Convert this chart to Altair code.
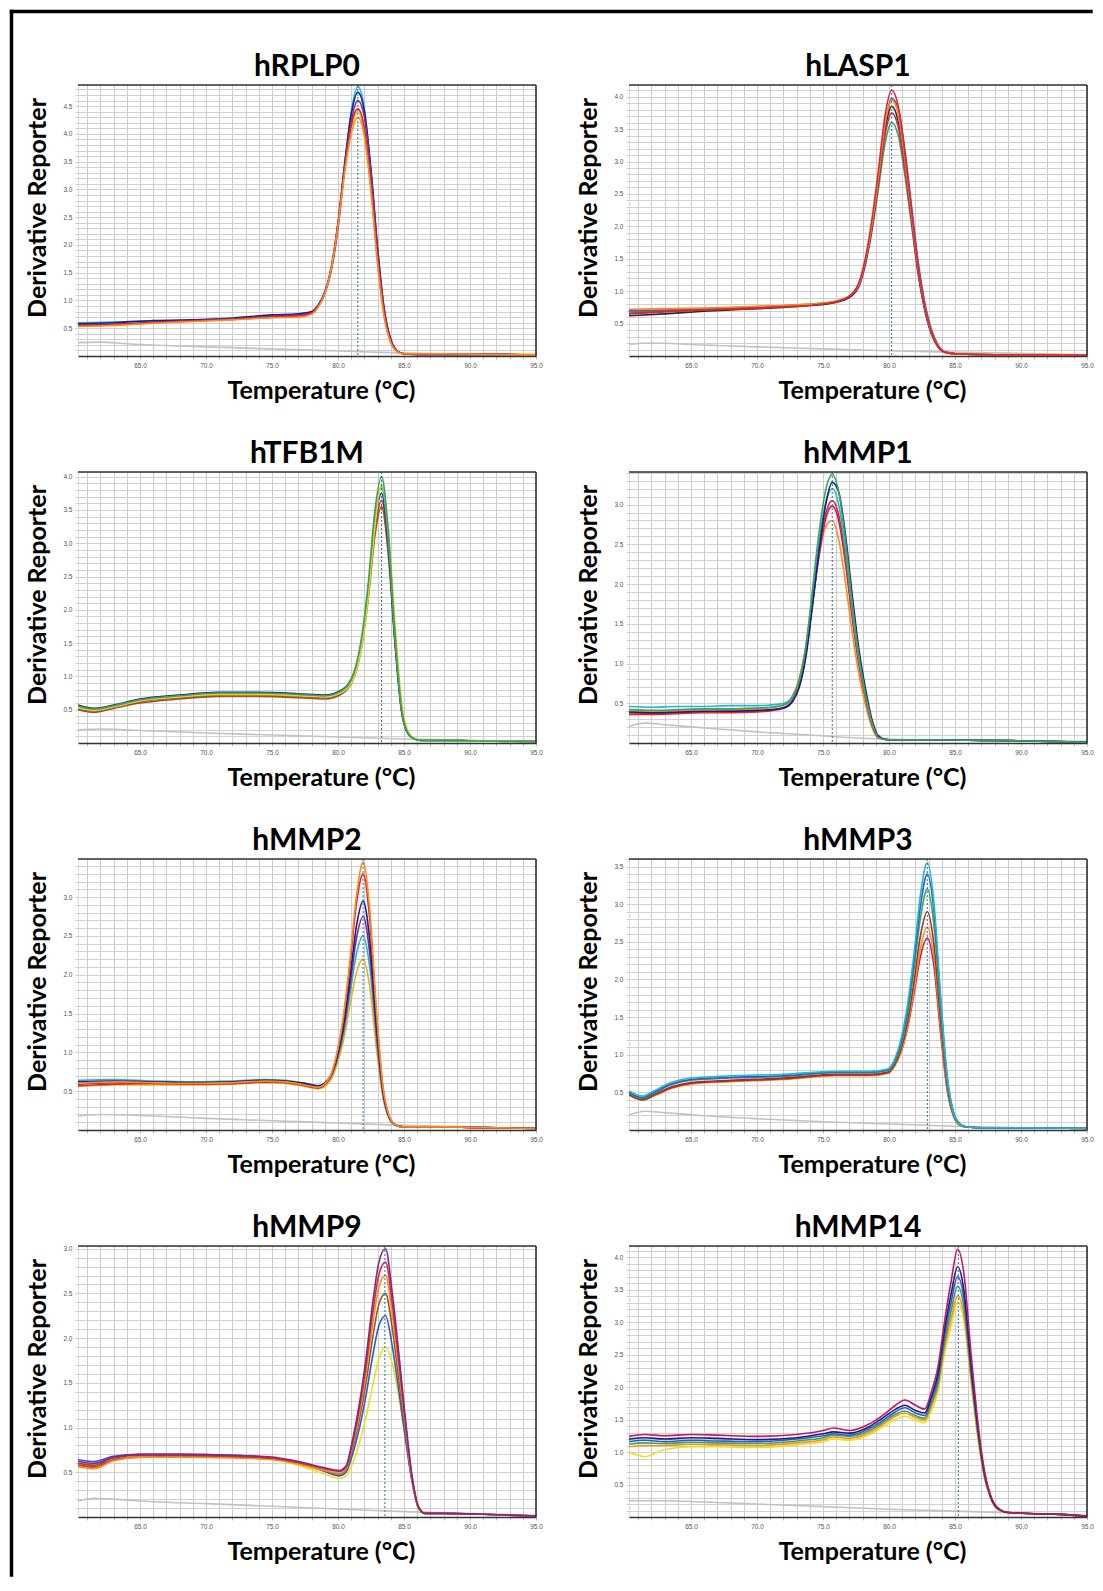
import altair as alt
import pandas as pd

# ---------------- data ----------------
PANELS = ["hRPLP0", "hLASP1", "hTFB1M", "hMMP1", "hMMP2", "hMMP3", "hMMP9", "hMMP14"]
TM = [81.5, 80.2, 83.3, 75.7, 81.9, 82.9, 83.55, 85.25]
YMAX = [4.88, 4.18, 4.07, 3.41, 3.49, 3.6, 3.03, 4.17]
X_DOMAIN = [60.3, 95]
X_LABELS = [65, 70, 75, 80, 85, 90, 95]

# hRPLP0
T_RPLP0 = [60.3, 63, 66, 69, 72, 75, 77, 78, 78.5, 79, 79.5, 80, 80.5, 81, 81.5, 82, 82.5, 83, 83.5, 84, 84.5, 85, 86, 88, 91, 95]
C_RPLP0 = [
    [0.60, 0.61, 0.63, 0.65, 0.69, 0.73, 0.75, 0.79, 0.91, 1.14, 1.58, 2.36, 3.45, 4.4, 4.85, 4.45, 3.3, 1.85, 0.78, 0.27, 0.08, 0.04, 0.03, 0.03, 0.02, 0.02],
    [0.54, 0.56, 0.60, 0.63, 0.66, 0.70, 0.71, 0.76, 0.89, 1.13, 1.6, 2.4, 3.35, 4.08, 4.4, 4.02, 3.0, 1.68, 0.72, 0.24, 0.08, 0.04, 0.04, 0.04, 0.04, 0.03],
    [0.58, 0.60, 0.64, 0.65, 0.68, 0.74, 0.76, 0.80, 0.92, 1.15, 1.6, 2.4, 3.45, 4.35, 4.75, 4.4, 3.35, 1.95, 0.85, 0.3, 0.09, 0.04, 0.03, 0.03, 0.03, 0.02],
    [0.56, 0.57, 0.61, 0.64, 0.67, 0.72, 0.74, 0.78, 0.9, 1.12, 1.55, 2.3, 3.35, 4.22, 4.6, 4.3, 3.3, 1.9, 0.82, 0.28, 0.09, 0.04, 0.03, 0.03, 0.03, 0.02],
    [0.55, 0.56, 0.60, 0.63, 0.66, 0.70, 0.72, 0.77, 0.90, 1.13, 1.6, 2.38, 3.38, 4.15, 4.45, 4.1, 3.05, 1.72, 0.74, 0.25, 0.08, 0.04, 0.03, 0.03, 0.03, 0.02],
    [0.53, 0.55, 0.59, 0.62, 0.65, 0.69, 0.70, 0.75, 0.88, 1.12, 1.58, 2.35, 3.3, 4.0, 4.3, 3.95, 2.95, 1.65, 0.7, 0.24, 0.08, 0.04, 0.04, 0.04, 0.03, 0.02],
]
K_RPLP0 = ["#22b5d6", "#e8c21a", "#1b1b8a", "#7a2a90", "#e0262b", "#ff8c1a"]
NT_RPLP0 = [60.3, 62, 64, 68, 72, 76, 80, 84, 88, 95]
NV_RPLP0 = [0.24, 0.25, 0.22, 0.18, 0.15, 0.12, 0.09, 0.06, 0.04, 0.02]

# hLASP1
T_LASP1 = [60.3, 63, 66, 69, 72, 74, 75.2, 76.2, 77.2, 77.7, 78.2, 78.7, 79.2, 79.7, 80.2, 80.7, 81.2, 81.7, 82.2, 82.7, 83.2, 83.7, 84.2, 85.2, 88, 91, 95]
C_LASP1 = [
    [0.68, 0.70, 0.72, 0.75, 0.78, 0.80, 0.82, 0.85, 0.95, 1.08, 1.42, 1.92, 2.58, 3.28, 3.6, 3.4, 2.79, 2.03, 1.26, 0.71, 0.34, 0.14, 0.06, 0.03, 0.02, 0.02, 0.01],
    [0.70, 0.71, 0.73, 0.75, 0.77, 0.79, 0.81, 0.84, 0.93, 1.06, 1.4, 1.95, 2.7, 3.52, 3.97, 3.82, 3.18, 2.33, 1.47, 0.84, 0.42, 0.18, 0.07, 0.03, 0.02, 0.02, 0.01],
    [0.62, 0.65, 0.69, 0.72, 0.75, 0.78, 0.80, 0.84, 0.94, 1.08, 1.44, 1.98, 2.7, 3.49, 3.85, 3.62, 2.95, 2.14, 1.32, 0.74, 0.36, 0.15, 0.06, 0.03, 0.02, 0.02, 0.01],
    [0.65, 0.68, 0.71, 0.73, 0.76, 0.79, 0.81, 0.85, 0.95, 1.09, 1.45, 1.97, 2.68, 3.41, 3.75, 3.53, 2.88, 2.09, 1.29, 0.73, 0.35, 0.15, 0.06, 0.03, 0.02, 0.02, 0.01],
    [0.72, 0.73, 0.74, 0.76, 0.78, 0.80, 0.82, 0.86, 0.96, 1.1, 1.47, 2.03, 2.77, 3.58, 3.95, 3.72, 3.03, 2.2, 1.36, 0.77, 0.37, 0.16, 0.06, 0.03, 0.02, 0.02, 0.01],
    [0.66, 0.69, 0.71, 0.73, 0.76, 0.78, 0.81, 0.85, 0.96, 1.12, 1.5, 2.1, 2.87, 3.71, 4.1, 3.85, 3.13, 2.26, 1.39, 0.77, 0.37, 0.15, 0.06, 0.03, 0.02, 0.02, 0.01],
]
K_LASP1 = ["#3aa655", "#3c64c8", "#2b2b2b", "#b0306a", "#ff8c1a", "#e0262b"]
NT_LASP1 = [60.3, 62, 66, 70, 75, 80, 85, 90, 95]
NV_LASP1 = [0.18, 0.2, 0.17, 0.14, 0.11, 0.08, 0.06, 0.04, 0.02]

# hTFB1M
T_TFB1M = [60.3, 61.5, 63, 65, 68, 71, 74, 77, 79, 80.3, 80.8, 81.3, 81.8, 82.3, 82.8, 83.3, 83.8, 84.3, 84.8, 85.3, 85.8, 86.3, 88, 91, 95]
C_TFB1M = [
    [0.50, 0.46, 0.52, 0.6, 0.66, 0.7, 0.7, 0.68, 0.66, 0.74, 0.83, 1.03, 1.46, 2.18, 3.12, 3.55, 2.85, 1.52, 0.49, 0.14, 0.06, 0.04, 0.04, 0.03, 0.02],
    [0.52, 0.48, 0.53, 0.62, 0.68, 0.72, 0.72, 0.70, 0.68, 0.76, 0.85, 1.06, 1.5, 2.24, 3.2, 3.65, 2.93, 1.56, 0.5, 0.14, 0.06, 0.04, 0.04, 0.03, 0.02],
    [0.57, 0.52, 0.57, 0.66, 0.72, 0.76, 0.76, 0.74, 0.72, 0.8, 0.89, 1.1, 1.55, 2.3, 3.3, 3.75, 3.0, 1.6, 0.52, 0.14, 0.06, 0.04, 0.04, 0.03, 0.02],
    [0.54, 0.5, 0.55, 0.64, 0.7, 0.74, 0.74, 0.72, 0.7, 0.78, 0.87, 1.09, 1.56, 2.35, 3.38, 3.85, 3.08, 1.63, 0.53, 0.15, 0.06, 0.04, 0.04, 0.03, 0.02],
    [0.53, 0.49, 0.54, 0.63, 0.69, 0.73, 0.73, 0.71, 0.69, 0.76, 0.84, 1.03, 1.46, 2.2, 3.25, 3.88, 3.25, 1.85, 0.65, 0.18, 0.07, 0.04, 0.04, 0.03, 0.02],
    [0.56, 0.51, 0.56, 0.65, 0.71, 0.75, 0.75, 0.73, 0.71, 0.79, 0.89, 1.12, 1.6, 2.42, 3.5, 4.0, 3.2, 1.69, 0.54, 0.15, 0.06, 0.04, 0.04, 0.03, 0.02],
]
K_TFB1M = ["#8b5a2b", "#e0262b", "#1b1b8a", "#22b5d6", "#e8d21a", "#3aa655"]
NT_TFB1M = [60.3, 62, 66, 70, 75, 80, 85, 90, 95]
NV_TFB1M = [0.2, 0.21, 0.18, 0.15, 0.12, 0.09, 0.06, 0.04, 0.02]

# hMMP1
T_MMP1 = [60.3, 62, 64, 66, 68, 70, 71.2, 72.2, 72.7, 73.2, 73.7, 74.2, 74.7, 75.2, 75.7, 76.2, 76.7, 77.2, 77.7, 78.2, 78.7, 79.2, 80, 83, 86, 89, 92, 95]
C_MMP1 = [
    [0.4, 0.4, 0.41, 0.42, 0.42, 0.43, 0.45, 0.5, 0.6, 0.82, 1.22, 1.8, 2.36, 2.72, 2.8, 2.55, 2.02, 1.4, 0.88, 0.49, 0.2, 0.06, 0.04, 0.04, 0.035, 0.03, 0.02, 0.01],
    [0.38, 0.37, 0.38, 0.39, 0.4, 0.4, 0.42, 0.46, 0.54, 0.74, 1.13, 1.75, 2.36, 2.82, 2.98, 2.79, 2.26, 1.59, 1.01, 0.58, 0.24, 0.07, 0.04, 0.04, 0.035, 0.03, 0.02, 0.01],
    [0.36, 0.36, 0.37, 0.38, 0.38, 0.39, 0.41, 0.45, 0.53, 0.73, 1.13, 1.77, 2.4, 2.88, 3.05, 2.86, 2.32, 1.63, 1.04, 0.59, 0.25, 0.07, 0.04, 0.04, 0.035, 0.03, 0.02, 0.01],
    [0.46, 0.45, 0.46, 0.46, 0.47, 0.47, 0.48, 0.51, 0.59, 0.79, 1.2, 1.87, 2.53, 3.02, 3.2, 2.99, 2.43, 1.7, 1.08, 0.62, 0.26, 0.07, 0.04, 0.04, 0.035, 0.03, 0.02, 0.01],
    [0.39, 0.38, 0.39, 0.4, 0.4, 0.41, 0.42, 0.45, 0.52, 0.7, 1.08, 1.72, 2.42, 3.0, 3.28, 3.15, 2.62, 1.88, 1.2, 0.7, 0.3, 0.09, 0.04, 0.04, 0.035, 0.03, 0.02, 0.01],
    [0.42, 0.41, 0.42, 0.43, 0.43, 0.44, 0.45, 0.49, 0.57, 0.79, 1.22, 1.93, 2.65, 3.18, 3.38, 3.15, 2.55, 1.78, 1.12, 0.63, 0.26, 0.07, 0.04, 0.04, 0.035, 0.03, 0.02, 0.01],
]
K_MMP1 = ["#ff8c1a", "#c2185b", "#e0262b", "#22b5d6", "#1b1b8a", "#3aa655"]
NT_MMP1 = [60.3, 61.5, 63, 66, 70, 74, 78, 84, 90, 95]
NV_MMP1 = [0.21, 0.25, 0.23, 0.19, 0.14, 0.1, 0.06, 0.04, 0.03, 0.02]

# hMMP2
T_MMP2 = [60.3, 63, 66, 69, 72, 74.5, 76, 77.5, 78.5, 79.4, 79.9, 80.4, 80.9, 81.4, 81.9, 82.4, 82.9, 83.4, 83.9, 84.4, 84.9, 86, 88, 91, 95]
C_MMP2 = [
    [0.56, 0.58, 0.58, 0.58, 0.59, 0.61, 0.6, 0.56, 0.53, 0.63, 0.83, 1.14, 1.6, 2.03, 2.2, 1.85, 1.06, 0.42, 0.14, 0.06, 0.04, 0.04, 0.04, 0.03, 0.02],
    [0.64, 0.65, 0.63, 0.62, 0.63, 0.65, 0.64, 0.6, 0.57, 0.67, 0.88, 1.22, 1.74, 2.27, 2.5, 2.1, 1.2, 0.46, 0.15, 0.06, 0.04, 0.04, 0.04, 0.03, 0.02],
    [0.59, 0.61, 0.6, 0.6, 0.6, 0.62, 0.62, 0.58, 0.55, 0.67, 0.9, 1.28, 1.85, 2.47, 2.75, 2.28, 1.28, 0.48, 0.15, 0.06, 0.04, 0.04, 0.04, 0.03, 0.02],
    [0.62, 0.63, 0.62, 0.61, 0.62, 0.64, 0.63, 0.6, 0.57, 0.69, 0.93, 1.33, 1.95, 2.63, 2.95, 2.45, 1.38, 0.52, 0.16, 0.06, 0.04, 0.04, 0.04, 0.03, 0.02],
    [0.57, 0.59, 0.6, 0.59, 0.6, 0.62, 0.61, 0.57, 0.54, 0.68, 0.96, 1.42, 2.12, 2.92, 3.3, 2.72, 1.51, 0.55, 0.17, 0.06, 0.04, 0.04, 0.04, 0.03, 0.02],
    [0.6, 0.62, 0.61, 0.6, 0.61, 0.63, 0.62, 0.58, 0.55, 0.69, 0.98, 1.46, 2.19, 3.02, 3.45, 2.85, 1.58, 0.57, 0.17, 0.06, 0.04, 0.04, 0.04, 0.03, 0.02],
]
K_MMP2 = ["#e3b51a", "#22b5d6", "#7a2a90", "#1b1b8a", "#e0262b", "#ff8c1a"]
NT_MMP2 = [60.3, 62, 66, 70, 75, 80, 85, 90, 95]
NV_MMP2 = [0.18, 0.2, 0.18, 0.15, 0.12, 0.09, 0.06, 0.04, 0.02]

# hMMP3
T_MMP3 = [60.3, 61.3, 62.3, 63.5, 65, 68, 72, 76, 78.5, 79.9, 80.4, 80.9, 81.4, 81.9, 82.4, 82.9, 83.4, 83.9, 84.4, 84.9, 85.4, 85.9, 87, 90, 95]
C_MMP3 = [
    [0.48, 0.41, 0.48, 0.57, 0.63, 0.66, 0.69, 0.74, 0.74, 0.77, 0.85, 1.03, 1.35, 1.82, 2.32, 2.55, 2.18, 1.3, 0.54, 0.18, 0.06, 0.04, 0.03, 0.03, 0.02],
    [0.46, 0.4, 0.46, 0.55, 0.61, 0.64, 0.67, 0.72, 0.72, 0.75, 0.84, 1.03, 1.37, 1.87, 2.43, 2.7, 2.3, 1.37, 0.56, 0.18, 0.06, 0.04, 0.03, 0.03, 0.02],
    [0.47, 0.4, 0.47, 0.56, 0.62, 0.65, 0.68, 0.73, 0.73, 0.76, 0.86, 1.07, 1.43, 1.98, 2.6, 2.9, 2.47, 1.47, 0.6, 0.19, 0.07, 0.04, 0.03, 0.03, 0.02],
    [0.49, 0.42, 0.5, 0.6, 0.66, 0.69, 0.71, 0.76, 0.76, 0.79, 0.89, 1.12, 1.53, 2.14, 2.84, 3.2, 2.73, 1.62, 0.66, 0.21, 0.07, 0.04, 0.03, 0.03, 0.02],
    [0.5, 0.43, 0.51, 0.61, 0.67, 0.7, 0.72, 0.77, 0.77, 0.8, 0.91, 1.16, 1.6, 2.25, 3.0, 3.4, 2.92, 1.75, 0.72, 0.23, 0.08, 0.04, 0.03, 0.03, 0.02],
    [0.52, 0.45, 0.53, 0.63, 0.69, 0.72, 0.74, 0.78, 0.78, 0.81, 0.93, 1.2, 1.66, 2.35, 3.15, 3.55, 3.03, 1.8, 0.73, 0.22, 0.07, 0.04, 0.03, 0.03, 0.02],
]
K_MMP3 = ["#c2185b", "#ff8c1a", "#a0302a", "#3aa655", "#2a5cc8", "#22b5d6"]
NT_MMP3 = [60.3, 61.5, 63, 66, 70, 75, 80, 85, 90, 95]
NV_MMP3 = [0.2, 0.25, 0.23, 0.19, 0.15, 0.11, 0.08, 0.05, 0.03, 0.02]

# hMMP9
T_MMP9 = [60.3, 61.5, 63, 65, 68, 72, 75, 77, 79, 80.1, 80.6, 81.1, 81.6, 82.1, 82.6, 83.1, 83.6, 84.1, 84.6, 85.1, 85.6, 86.1, 86.6, 88, 91, 95]
C_MMP9 = [
    [0.57, 0.55, 0.64, 0.68, 0.69, 0.68, 0.65, 0.58, 0.48, 0.43, 0.46, 0.6, 0.82, 1.1, 1.45, 1.77, 1.9, 1.72, 1.35, 0.9, 0.44, 0.13, 0.05, 0.04, 0.03, 0.01],
    [0.64, 0.62, 0.68, 0.7, 0.7, 0.69, 0.66, 0.6, 0.51, 0.46, 0.5, 0.7, 0.98, 1.34, 1.78, 2.14, 2.25, 1.92, 1.42, 0.88, 0.4, 0.1, 0.04, 0.04, 0.03, 0.01],
    [0.58, 0.56, 0.64, 0.67, 0.68, 0.67, 0.65, 0.6, 0.52, 0.48, 0.53, 0.76, 1.08, 1.48, 1.98, 2.38, 2.5, 2.12, 1.55, 0.95, 0.42, 0.1, 0.04, 0.04, 0.03, 0.01],
    [0.56, 0.54, 0.63, 0.67, 0.67, 0.66, 0.64, 0.59, 0.52, 0.49, 0.54, 0.8, 1.14, 1.59, 2.13, 2.57, 2.7, 2.27, 1.66, 1.01, 0.43, 0.1, 0.04, 0.04, 0.03, 0.01],
    [0.6, 0.58, 0.66, 0.69, 0.69, 0.68, 0.66, 0.61, 0.54, 0.51, 0.56, 0.83, 1.2, 1.67, 2.25, 2.71, 2.85, 2.4, 1.75, 1.06, 0.45, 0.11, 0.04, 0.04, 0.03, 0.01],
    [0.62, 0.6, 0.67, 0.7, 0.7, 0.69, 0.67, 0.62, 0.55, 0.52, 0.57, 0.86, 1.25, 1.75, 2.36, 2.85, 3.0, 2.52, 1.84, 1.11, 0.47, 0.11, 0.04, 0.04, 0.03, 0.01],
]
K_MMP9 = ["#e8e01a", "#2a5cc8", "#8b5a2b", "#ff8c1a", "#e0262b", "#7a2a90"]
NT_MMP9 = [60.3, 61.5, 63, 66, 70, 75, 80, 85, 90, 95]
NV_MMP9 = [0.18, 0.21, 0.2, 0.17, 0.15, 0.12, 0.09, 0.06, 0.04, 0.02]

# hMMP14
T_MMP14 = [60.3, 61.5, 63, 65, 67, 70, 73, 75, 75.8, 77, 78.5, 79.5, 80.5, 81.2, 82, 82.7, 83.2, 83.7, 84.2, 84.7, 85.2, 85.7, 86.2, 86.7, 87.2, 87.7, 88.2, 89, 91, 93, 95]
C_MMP14 = [
    [1.0, 0.93, 1.04, 1.08, 1.08, 1.07, 1.11, 1.16, 1.2, 1.18, 1.27, 1.38, 1.5, 1.55, 1.49, 1.45, 1.63, 1.92, 2.5, 2.94, 3.3, 3.0, 2.1, 1.25, 0.62, 0.28, 0.12, 0.07, 0.05, 0.04, 0.01],
    [1.08, 1.1, 1.1, 1.12, 1.11, 1.1, 1.14, 1.19, 1.23, 1.21, 1.3, 1.42, 1.55, 1.6, 1.53, 1.49, 1.7, 2.0, 2.6, 3.05, 3.4, 3.08, 2.15, 1.3, 0.64, 0.29, 0.13, 0.07, 0.05, 0.04, 0.01],
    [1.12, 1.14, 1.13, 1.15, 1.14, 1.13, 1.17, 1.22, 1.26, 1.24, 1.33, 1.45, 1.58, 1.63, 1.56, 1.52, 1.74, 2.05, 2.68, 3.17, 3.55, 3.2, 2.22, 1.34, 0.66, 0.3, 0.13, 0.07, 0.05, 0.04, 0.01],
    [1.16, 1.18, 1.16, 1.18, 1.17, 1.16, 1.2, 1.25, 1.28, 1.26, 1.36, 1.48, 1.62, 1.68, 1.6, 1.56, 1.8, 2.12, 2.78, 3.3, 3.7, 3.32, 2.3, 1.39, 0.69, 0.31, 0.14, 0.07, 0.05, 0.04, 0.01],
    [1.2, 1.22, 1.2, 1.22, 1.21, 1.19, 1.22, 1.28, 1.31, 1.29, 1.39, 1.52, 1.66, 1.72, 1.64, 1.6, 1.85, 2.2, 2.88, 3.43, 3.85, 3.45, 2.38, 1.43, 0.71, 0.32, 0.14, 0.07, 0.05, 0.04, 0.01],
    [1.24, 1.27, 1.25, 1.27, 1.26, 1.24, 1.27, 1.33, 1.37, 1.33, 1.43, 1.56, 1.72, 1.8, 1.72, 1.66, 1.92, 2.3, 3.0, 3.62, 4.12, 3.7, 2.55, 1.52, 0.75, 0.33, 0.15, 0.07, 0.05, 0.04, 0.01],
]
K_MMP14 = ["#e8e01a", "#ff8c1a", "#3aa655", "#2a5cc8", "#1b1b8a", "#c2185b"]
NT_MMP14 = [60.3, 63, 66, 70, 75, 80, 85, 90, 95]
NV_MMP14 = [0.25, 0.25, 0.23, 0.2, 0.16, 0.12, 0.09, 0.06, 0.03]

SERIES = [
    (T_RPLP0, C_RPLP0, K_RPLP0, NT_RPLP0, NV_RPLP0),
    (T_LASP1, C_LASP1, K_LASP1, NT_LASP1, NV_LASP1),
    (T_TFB1M, C_TFB1M, K_TFB1M, NT_TFB1M, NV_TFB1M),
    (T_MMP1, C_MMP1, K_MMP1, NT_MMP1, NV_MMP1),
    (T_MMP2, C_MMP2, K_MMP2, NT_MMP2, NV_MMP2),
    (T_MMP3, C_MMP3, K_MMP3, NT_MMP3, NV_MMP3),
    (T_MMP9, C_MMP9, K_MMP9, NT_MMP9, NV_MMP9),
    (T_MMP14, C_MMP14, K_MMP14, NT_MMP14, NV_MMP14),
]

# ---------------- layout / style ----------------
W, H = 458, 271
BOLD = "Lato"
SMALL = "Liberation Sans"


def make_panel(i, with_border=False):
    temps, curves, colors, nt, nv = SERIES[i]
    rows = []
    for k, (vals, col) in enumerate(zip(curves, colors)):
        if len(vals) != len(temps):
            raise ValueError(f"{PANELS[i]} curve {k}: {len(vals)} vs {len(temps)}")
        for t, v in zip(temps, vals):
            rows.append({"t": t, "v": v, "id": k, "col": col})
    df = pd.DataFrame(rows)
    ntc = pd.DataFrame({"t": nt, "v": nv})
    one = pd.DataFrame({"a": [0]})

    xs = alt.Scale(domain=X_DOMAIN, nice=False, zero=False)
    ys = alt.Scale(domain=[0, YMAX[i]], nice=False, zero=False)
    xvals = list(range(61, 96))
    yvals = [round(0.1 * k, 1) for k in range(1, int(YMAX[i] * 10 + 1e-6) + 1)]

    xaxis = alt.Axis(
        values=xvals,
        labelExpr="datum.value % 5 == 0 ? format(datum.value, '.1f') : ''",
        labelOverlap=False, labelFlush=False,
        labelFont=SMALL, labelFontSize=6.5, labelColor="#555555", labelPadding=3,
        grid=True, gridColor="#c6c6c6", gridWidth=0.9,
        ticks=True, tickSize=3, tickColor="#bbbbbb",
        domain=True, domainColor="#333333", domainWidth=1.6,
        title="Temperature (°C)", titleFont=BOLD, titleFontSize=25,
        titleFontWeight="bold", titleColor="#000000",
        titleX=W / 2 + 14, titleY=42, titleBaseline="alphabetic", titleAlign="center",
    )
    yaxis = alt.Axis(
        values=yvals,
        labelExpr="abs(datum.value * 2 - round(datum.value * 2)) < 0.01 ? format(datum.value, '.1f') : ''",
        labelOverlap=False, labelFlush=False,
        labelFont=SMALL, labelFontSize=6.5, labelColor="#555555", labelPadding=3,
        grid=True, gridColor="#cccccc", gridWidth=0.9,
        ticks=True, tickSize=3, tickColor="#cccccc",
        domain=False,
        title="Derivative Reporter", titleFont=BOLD, titleFontSize=25,
        titleFontWeight="bold", titleColor="#000000",
        titleX=-41, titleY=H / 2 - 13, titleAngle=-90,
        titleBaseline="middle", titleAlign="center",
    )

    gray = alt.Chart(ntc).mark_line(
        color="#c2c2c2", strokeWidth=1.6, interpolate="monotone", clip=True
    ).encode(
        x=alt.X("t:Q", scale=xs, axis=xaxis),
        y=alt.Y("v:Q", scale=ys, axis=yaxis),
    )
    lines = alt.Chart(df).mark_line(
        strokeWidth=1.6, interpolate="monotone", clip=True
    ).encode(
        x=alt.X("t:Q", scale=xs, axis=xaxis),
        y=alt.Y("v:Q", scale=ys, axis=yaxis),
        color=alt.Color("col:N", scale=None),
        detail="id:N",
        order="id:Q",
    )
    tm = alt.Chart(pd.DataFrame({"t": [TM[i]]})).mark_rule(
        color="#2f6db5", strokeDash=[2, 2], strokeWidth=1
    ).encode(x=alt.X("t:Q", scale=xs, axis=xaxis))
    top = alt.Chart(one).mark_rule(color="#333333", strokeWidth=1.6).encode(
        x=alt.value(0), x2=alt.value(W), y=alt.value(0)
    )
    right = alt.Chart(one).mark_rule(color="#333333", strokeWidth=1.6).encode(
        x=alt.value(W), y=alt.value(0), y2=alt.value(H)
    )
    title = alt.Chart(one).mark_text(
        font=BOLD, fontSize=30, fontWeight="bold", color="#000000",
        align="center", baseline="alphabetic",
    ).encode(x=alt.value(W / 2), y=alt.value(-9), text=alt.value(PANELS[i]))
    layers = [gray, lines, tm, top, right, title]
    if with_border:
        bl = alt.Chart(one).mark_rule(color="#000000", strokeWidth=3.5, strokeCap="square").encode(
            x=alt.value(-66.5), y=alt.value(-73.5), y2=alt.value(1490)
        )
        bt = alt.Chart(one).mark_rule(color="#000000", strokeWidth=3.5, strokeCap="square").encode(
            x=alt.value(-66.5), x2=alt.value(1013), y=alt.value(-73.5)
        )
        layers += [bl, bt]
    return alt.layer(*layers).properties(width=W, height=H)


panels = [make_panel(i, with_border=(i == 0)) for i in range(8)]
chart = alt.concat(
    *panels, columns=2, spacing={"row": 116, "column": 93}, bounds="flush"
).properties(padding=0).configure_view(stroke=None).configure(background="white")

chart.save("out.html", embed_options={"renderer": "svg", "actions": False})
